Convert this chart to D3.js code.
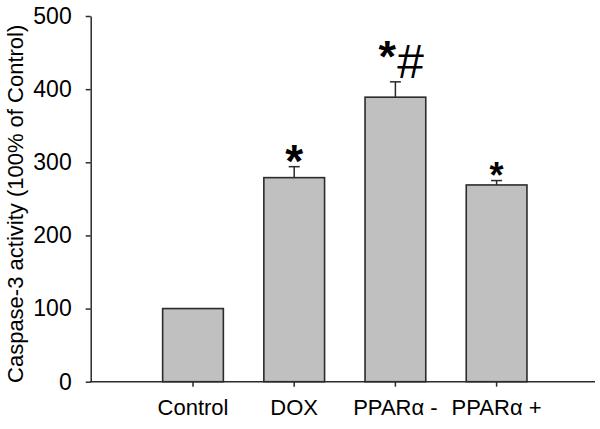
<!DOCTYPE html>
<html>
<head>
<meta charset="utf-8">
<script src="https://cdn.jsdelivr.net/npm/d3@7"></script>
<style>
  body { margin: 0; background: #fff; }
  svg { display: block; font-family: "Liberation Sans", Arial, sans-serif; }
  .tick text { fill: #000; }
</style>
</head>
<body>
<svg id="chart" width="600" height="429"></svg>
<script>
// data
var groups = ["Control", "DOX", "PPARα -", "PPARα +"];
var means = [100, 279, 389, 269];
var errors = [0, 15, 21, 6];
var marks = ["", "*", "*#", "*"];
var yTicks = [0, 100, 200, 300, 400, 500];

var svg = d3.select("#chart");

// plot edges (note: "top" is taken by window.top, so use other names)
var plotLeft = 90.7, plotRight = 595,
    plotTop = 16, plotBottom = 381.7;

var yScale = d3.scaleLinear()
    .domain([0, 500])
    .range([plotBottom, plotTop]);

// band centers ~101px apart, first at 193
var xScale = d3.scaleBand()
    .domain(groups)
    .range([142.4, 547.2])
    .paddingInner(0.4)
    .paddingOuter(0.2);

// bars
svg.selectAll("rect.bar")
    .data(groups)
    .enter()
    .append("rect")
    .attr("class", "bar")
    .attr("x", function(d){ return xScale(d); })
    .attr("y", function(d, i){ return yScale(means[i]); })
    .attr("width", xScale.bandwidth())
    .attr("height", function(d, i){ return plotBottom - yScale(means[i]); })
    .style("fill", "#c0c0c0")
    .style("stroke", "#2b2b2b")
    .style("stroke-width", 1.6);

// error bars (upper only)
var eb = svg.selectAll("g.err")
    .data(groups.filter(function(d, i){ return errors[i] > 0; }))
    .enter()
    .append("g")
    .attr("class", "err")
    .style("stroke", "#2b2b2b")
    .style("stroke-width", 1.5);

eb.append("line")
    .attr("x1", function(d){ return xScale(d) + xScale.bandwidth()/2; })
    .attr("x2", function(d){ return xScale(d) + xScale.bandwidth()/2; })
    .attr("y1", function(d){ return yScale(means[groups.indexOf(d)]); })
    .attr("y2", function(d){ var i = groups.indexOf(d); return yScale(means[i] + errors[i]); });

eb.append("line")
    .attr("x1", function(d){ return xScale(d) + xScale.bandwidth()/2 - 5.5; })
    .attr("x2", function(d){ return xScale(d) + xScale.bandwidth()/2 + 5.5; })
    .attr("y1", function(d){ var i = groups.indexOf(d); return yScale(means[i] + errors[i]); })
    .attr("y2", function(d){ var i = groups.indexOf(d); return yScale(means[i] + errors[i]); });

// significance marks
groups.forEach(function(g, i){
    if(!marks[i]) return;
    var cx = xScale(g) + xScale.bandwidth()/2;
    var yTop = yScale(means[i] + errors[i]);
    if(marks[i] == "*#"){
        svg.append("text")
            .attr("x", cx - 17)
            .attr("y", yTop - 10)
            .attr("text-anchor", "start")
            .style("font-size", "45px")
            .style("font-weight", "bold")
            .text("*");
        svg.append("text")
            .attr("x", cx + 1)
            .attr("y", yTop - 3.5)
            .attr("text-anchor", "start")
            .style("font-size", "48px")
            .style("font-style", "italic")
            .text("#");
    } else {
        var fs = errors[i] > 10 ? 46 : 36;
        svg.append("text")
            .attr("x", cx)
            .attr("y", yTop + (fs == 46 ? 10 : 7))
            .attr("text-anchor", "middle")
            .style("font-size", fs + "px")
            .style("font-weight", "bold")
            .text("*");
    }
});

// y axis
var yAxis = d3.axisLeft(yScale)
    .tickValues(yTicks)
    .tickSize(5)
    .tickSizeOuter(0)
    .tickPadding(14);

svg.append("g")
    .attr("transform", "translate(" + plotLeft + ",0)")
    .call(yAxis)
    .call(function(g){
        g.selectAll("path, line").style("stroke", "#2b2b2b").style("stroke-width", 1.5);
        g.selectAll("text").style("font-size", "23px");
    });
svg.selectAll("g").attr("font-family", null);

// x axis
svg.append("line")
    .attr("x1", plotLeft - 0.75)
    .attr("x2", plotRight)
    .attr("y1", plotBottom)
    .attr("y2", plotBottom)
    .style("stroke", "#2b2b2b")
    .style("stroke-width", 1.5);

var xAxis = d3.axisBottom(xScale)
    .tickSize(5)
    .tickSizeOuter(0)
    .tickPadding(13);

svg.append("g")
    .attr("transform", "translate(0," + plotBottom + ")")
    .call(xAxis)
    .call(function(g){
        g.attr("font-family", null);
        g.select(".domain").remove();
        g.selectAll("line").style("stroke", "#2b2b2b").style("stroke-width", 1.5);
        g.selectAll("text").style("font-size", "22px");
    });

// y axis title
svg.append("text")
    .attr("transform", "translate(23," + ((plotTop + plotBottom) / 2 + 5) + ") rotate(-90)")
    .attr("text-anchor", "middle")
    .style("font-size", "22px")
    .text("Caspase-3 activity (100% of Control)");
</script>
</body>
</html>
